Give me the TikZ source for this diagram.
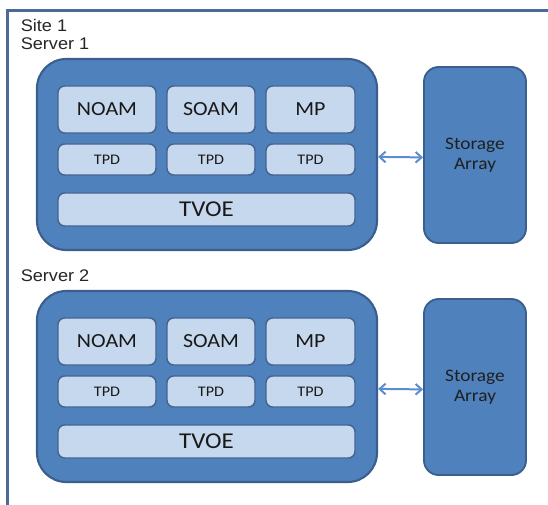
\documentclass[tikz,border=0pt]{standalone}
\usepackage{fontspec}
\usetikzlibrary{arrows.meta}
\newfontfamily\lblfont[FakeStretch=1.1]{Carlito}
\newfontfamily\headfont[FakeStretch=1.08]{Liberation Sans}
\definecolor{frameblue}{HTML}{4A6B98}
\definecolor{outerfill}{HTML}{4F81BD}
\definecolor{outerline}{HTML}{3A5F8E}
\definecolor{innerfill}{HTML}{C6D8EE}
\definecolor{innerline}{HTML}{44648F}
\definecolor{linkblue}{HTML}{5A8ED0}
\tikzset{
  pxw/.style={minimum width=#1*0.75pt},
  pxh/.style={minimum height=#1*0.75pt},
  serverbox/.style={draw=outerline, fill=outerfill, line width=1.6pt,
    rounded corners=22pt, inner sep=0pt},
  storebox/.style={draw=outerline, fill=outerfill, line width=1.4pt,
    rounded corners=11pt, inner sep=0pt, align=center,
    font=\lblfont\fontsize{13.2pt}{15pt}\selectfont, text=black!88},
  rolebox/.style={draw=innerline, fill=innerfill, line width=1.1pt,
    rounded corners=5pt, inner sep=0pt, text=black!90},
  rolefont/.style={font=\lblfont\fontsize{15pt}{17pt}\selectfont},
  tpdfont/.style={font=\lblfont\fontsize{11pt}{13pt}\selectfont},
  tvoefont/.style={font=\lblfont\fontsize{17pt}{19pt}\selectfont},
  heading/.style={anchor=base west, inner sep=0pt, text=black!85,
    font=\headfont\fontsize{12.6pt}{14pt}\selectfont},
  link/.style={draw=linkblue, line width=1.5pt,
    {Straight Barb[length=4.5pt,width=8pt]}-{Straight Barb[length=4.5pt,width=8pt]}},
}
\begin{document}
\begin{tikzpicture}[x=0.75pt, y=-0.75pt]
\useasboundingbox (0,0) rectangle (548,505);
\fill[white] (0,0) rectangle (548,505);

% site frame (top and left edges)
\coordinate (frameR) at (548,10.5);
\coordinate (frameC) at (7.5,10.5);
\coordinate (frameB) at (7.5,505);
\draw[frameblue, line width=1.6pt] (frameR) -- (frameC) -- (frameB);

\node[heading] (site) at (20.5,31.5) {Site 1};

\foreach \s/\dy in {1/0, 2/232} {
  \node[heading] (title\s) at (20.5,49.5+\dy) {Server \s};

  % server chassis
  \node[serverbox, pxw=340, pxh=191] (srv\s) at (207,154.5+\dy) {};

  % application roles
  \node[rolebox, rolefont, pxw=98, pxh=47] (noam\s) at (107,109.5+\dy) {NOAM};
  \node[rolebox, rolefont, pxw=88, pxh=47] (soam\s) at (211,109.5+\dy) {SOAM};
  \node[rolebox, rolefont, pxw=89, pxh=47] (mp\s) at (310.5,109.5+\dy) {MP};

  % platform layer
  \node[rolebox, tpdfont, pxw=98, pxh=31] (tpdA\s) at (107,159.5+\dy) {TPD};
  \node[rolebox, tpdfont, pxw=88, pxh=31] (tpdB\s) at (211,159.5+\dy) {TPD};
  \node[rolebox, tpdfont, pxw=89, pxh=31] (tpdC\s) at (310.5,159.5+\dy) {TPD};

  % virtualization layer
  \node[rolebox, tvoefont, pxw=297, pxh=33] (tvoe\s) at (206.5,209.5+\dy) {TVOE};

  % external storage
  \node[storebox, pxw=102, pxh=176] (sto\s) at (475,155+\dy) {Storage\\Array};

  \draw[link] ([yshift=-1.8pt]srv\s.east) -- ([yshift=-1.8pt]sto\s.west);
}
\end{tikzpicture}
\end{document}
